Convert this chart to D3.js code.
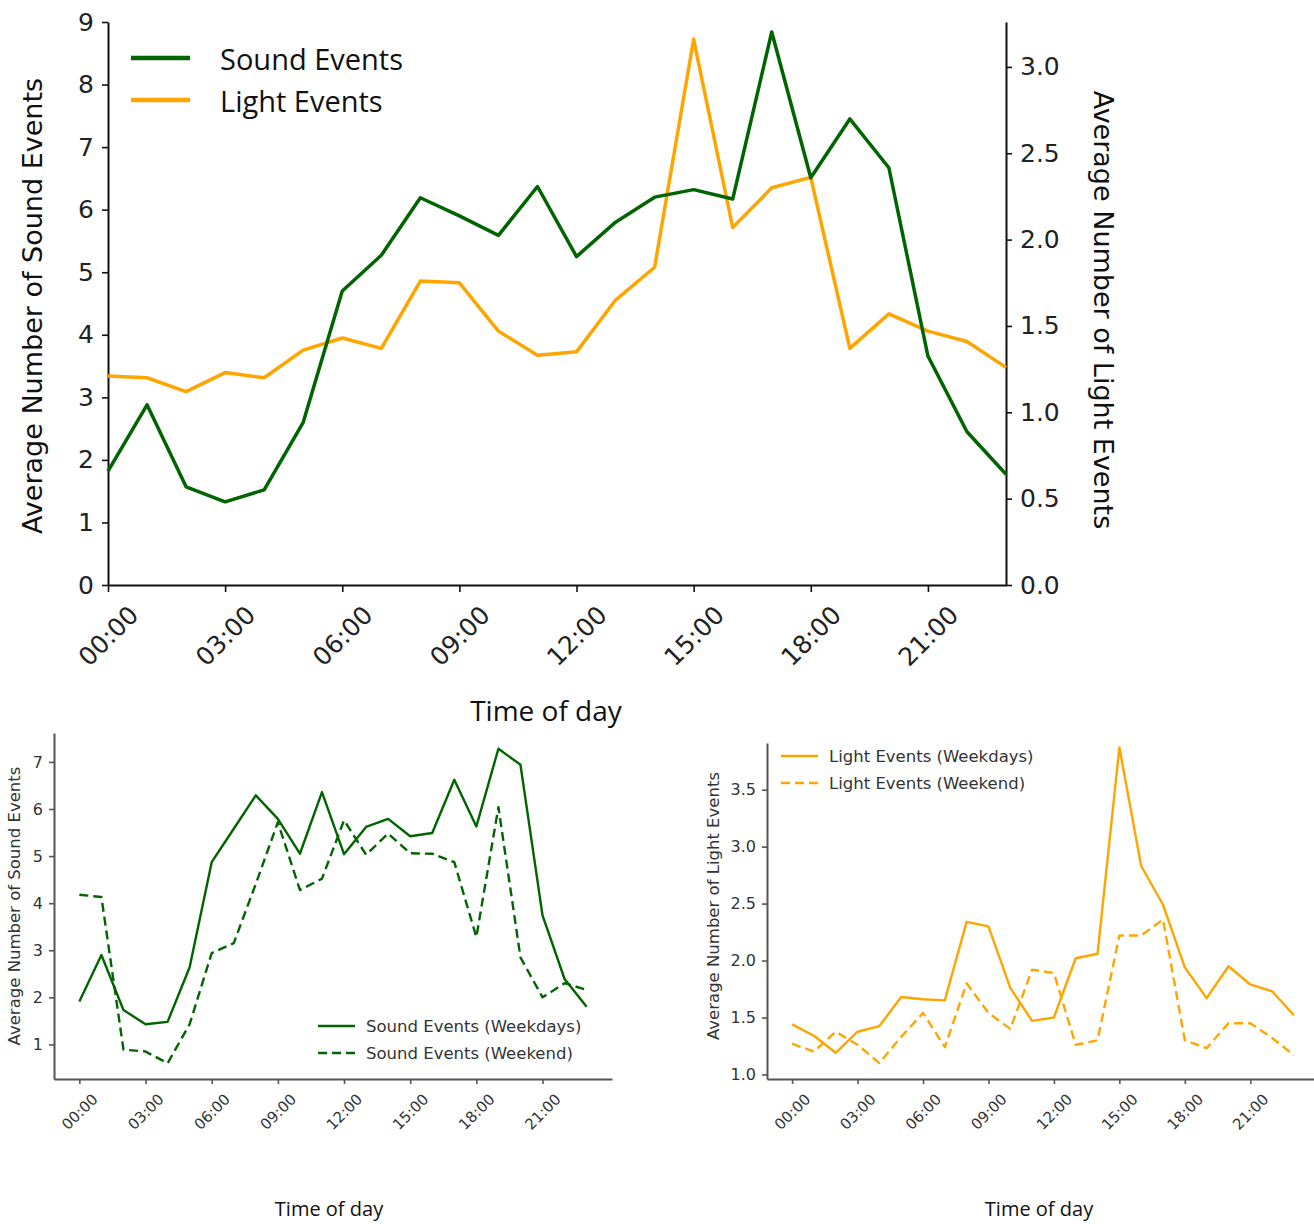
<!DOCTYPE html>
<html>
<head>
<meta charset="utf-8">
<script src="https://cdn.jsdelivr.net/npm/d3@7"></script>
<style>
  html, body { margin: 0; padding: 0; background: #fff; }
  svg { display: block; }
  text { font-family: "DejaVu Sans", sans-serif; }
</style>
</head>
<body>
<svg id="chart" width="1314" height="1224"></svg>
<script>
// Hours of the day (0..23) and the labelled ticks on every time axis
const hours = d3.range(24);
const hourTicks = [0, 3, 6, 9, 12, 15, 18, 21];
const hourTickLabels = ["00:00", "03:00", "06:00", "09:00", "12:00", "15:00", "18:00", "21:00"];

// All days: average number of events per hour
const soundAll = [1.82, 2.88, 1.57, 1.33, 1.52, 2.60, 4.70, 5.27, 6.19, 5.90, 5.59, 6.37,
                  5.25, 5.80, 6.20, 6.32, 6.17, 8.84, 6.51, 7.45, 6.67, 3.66, 2.45, 1.77];
const lightAll = [1.21, 1.20, 1.12, 1.23, 1.20, 1.36, 1.43, 1.37, 1.76, 1.75, 1.47, 1.33,
                  1.35, 1.65, 1.84, 3.16, 2.07, 2.30, 2.36, 1.37, 1.57, 1.47, 1.41, 1.26];

// Weekdays vs weekend
const soundWeekdays = [1.91, 2.90, 1.73, 1.43, 1.48, 2.64, 4.87, 5.58, 6.29, 5.79, 5.05, 6.36,
                       5.04, 5.62, 5.79, 5.42, 5.49, 6.62, 5.63, 7.28, 6.94, 3.74, 2.39, 1.80];
const soundWeekend  = [4.18, 4.13, 0.89, 0.85, 0.60, 1.43, 2.94, 3.15, 4.41, 5.72, 4.28, 4.52,
                       5.76, 5.03, 5.48, 5.06, 5.05, 4.87, 3.28, 6.04, 2.85, 2.00, 2.30, 2.16];
const lightWeekdays = [1.44, 1.34, 1.19, 1.375, 1.425, 1.68, 1.66, 1.65, 2.34, 2.30, 1.76, 1.47,
                       1.50, 2.02, 2.06, 3.87, 2.83, 2.49, 1.94, 1.67, 1.95, 1.79, 1.73, 1.52];
const lightWeekend  = [1.27, 1.20, 1.375, 1.26, 1.10, 1.33, 1.54, 1.24, 1.80, 1.54, 1.40, 1.92,
                       1.89, 1.26, 1.30, 2.22, 2.22, 2.36, 1.30, 1.23, 1.45, 1.45, 1.32, 1.17];

// Tick values for the value axes
const soundTicksTop = [0, 1, 2, 3, 4, 5, 6, 7, 8, 9];
const lightTicksTop = [0, 0.5, 1.0, 1.5, 2.0, 2.5, 3.0];
const soundTicksSplit = [1, 2, 3, 4, 5, 6, 7];
const lightTicksSplit = [1.0, 1.5, 2.0, 2.5, 3.0, 3.5];

const GREEN = "#006400";
const ORANGE = "#FFA500";

const svg = d3.select("#chart");
const hourLabel = h => hourTickLabels[hourTicks.indexOf(h)];

function styleAxis(g, color, width) {
  g.select(".domain").attr("stroke", color).attr("stroke-width", width);
  g.selectAll(".tick line").attr("stroke", color).attr("stroke-width", width * 0.8);
}

function rotateHourLabels(g, offset, size, color) {
  g.selectAll(".tick text")
    .attr("y", 0).attr("dy", null)
    .attr("transform", `translate(0,${offset}) rotate(-45)`)
    .attr("text-anchor", "middle")
    .attr("dominant-baseline", "central")
    .attr("fill", color)
    .style("font-size", size + "px");
}

/* ---------- Top panel: all days, twin value axes ---------- */
{
  const x = d3.scaleLinear().domain([0, 23]).range([108, 1006]);
  const ySound = d3.scaleLinear().domain([0, 9]).range([585, 22]);
  const yLight = d3.scaleLinear().domain([0, 3.26]).range([585, 22]);

  const gx = svg.append("g").attr("transform", `translate(0,${ySound(0)})`)
    .call(d3.axisBottom(x).tickValues(hourTicks).tickFormat(hourLabel).tickSize(7).tickSizeOuter(0));
  styleAxis(gx, "#111", 2);
  rotateHourLabels(gx, 51, 25, "#222");

  const gl = svg.append("g").attr("transform", `translate(${x(0)},0)`)
    .call(d3.axisLeft(ySound).tickValues(soundTicksTop).tickFormat(d3.format("d")).tickSize(6).tickPadding(8).tickSizeOuter(0));
  styleAxis(gl, "#111", 2);
  gl.selectAll(".tick text").attr("fill", "#222").style("font-size", "25px");

  const gr = svg.append("g").attr("transform", `translate(${x(23)},0)`)
    .call(d3.axisRight(yLight).tickValues(lightTicksTop).tickFormat(d3.format(".1f")).tickSize(6).tickPadding(8).tickSizeOuter(0));
  styleAxis(gr, "#111", 2);
  gr.selectAll(".tick text").attr("fill", "#222").style("font-size", "25px");

  const lineS = d3.line().x((d, i) => x(hours[i])).y(d => ySound(d));
  const lineL = d3.line().x((d, i) => x(hours[i])).y(d => yLight(d));
  svg.append("path").datum(lightAll).attr("d", lineL)
    .attr("fill", "none").attr("stroke", ORANGE).attr("stroke-width", 3.5).attr("stroke-linejoin", "round");
  svg.append("path").datum(soundAll).attr("d", lineS)
    .attr("fill", "none").attr("stroke", GREEN).attr("stroke-width", 3.5).attr("stroke-linejoin", "round");

  svg.append("text").attr("transform", "translate(42,306) rotate(-90)")
    .attr("text-anchor", "middle").attr("fill", "#111").style("font-size", "27px")
    .text("Average Number of Sound Events");
  svg.append("text").attr("transform", "translate(1094,310) rotate(90)")
    .attr("text-anchor", "middle").attr("fill", "#111").style("font-size", "27px")
    .text("Average Number of Light Events");
  svg.append("text").attr("x", 546).attr("y", 721)
    .attr("text-anchor", "middle").attr("fill", "#111")
    .style("font-family", "'Open Sans', sans-serif").style("font-size", "28px")
    .text("Time of day");

  const legend = [{ label: "Sound Events", color: GREEN, y: 58 }, { label: "Light Events", color: ORANGE, y: 100 }];
  const lg = svg.append("g");
  legend.forEach(d => {
    lg.append("line").attr("x1", 131).attr("x2", 190).attr("y1", d.y).attr("y2", d.y)
      .attr("stroke", d.color).attr("stroke-width", 4.5);
    lg.append("text").attr("x", 220).attr("y", d.y).attr("dominant-baseline", "central")
      .attr("fill", "#111").style("font-family", "'Open Sans', sans-serif").style("font-size", "29px")
      .text(d.label);
  });
}

/* ---------- Bottom panels: weekdays vs weekend ---------- */
function splitPanel(opts) {
  const pad = 23 * 0.05;
  const x = d3.scaleLinear().domain([-pad, 23 + pad]).range([opts.left, opts.right]);
  const y = d3.scaleLinear().domain(opts.yDomain).range([1079, opts.top]);

  const gx = svg.append("g").attr("transform", "translate(0,1079)")
    .call(d3.axisBottom(x).tickValues(hourTicks).tickFormat(hourLabel).tickSize(5).tickSizeOuter(0));
  styleAxis(gx, "#555", 2);
  rotateHourLabels(gx, 33, 15, "#333");

  const gy = svg.append("g").attr("transform", `translate(${opts.left},0)`)
    .call(d3.axisLeft(y).tickValues(opts.ticks).tickFormat(opts.fmt).tickSize(5).tickPadding(6).tickSizeOuter(0));
  styleAxis(gy, "#555", 2);
  gy.selectAll(".tick text").attr("fill", "#333").style("font-size", "16px");

  const line = d3.line().x((d, i) => x(hours[i])).y(d => y(d));
  svg.append("path").datum(opts.weekdays).attr("d", line)
    .attr("fill", "none").attr("stroke", opts.color).attr("stroke-width", 2.4).attr("stroke-linejoin", "round");
  svg.append("path").datum(opts.weekend).attr("d", line)
    .attr("fill", "none").attr("stroke", opts.color).attr("stroke-width", 2.4)
    .attr("stroke-dasharray", "9,5").attr("stroke-linejoin", "round");

  svg.append("text").attr("transform", `translate(${opts.titleX},906) rotate(-90)`)
    .attr("text-anchor", "middle").attr("fill", "#333").style("font-size", "16.5px")
    .text(opts.yTitle);
  svg.append("text").attr("x", opts.xTitleX).attr("y", 1216)
    .attr("text-anchor", "middle").attr("fill", "#111")
    .style("font-family", "'Open Sans', sans-serif").style("font-size", "20px")
    .text("Time of day");

  const rows = [{ label: opts.series[0], dash: null, y: opts.legendY },
                { label: opts.series[1], dash: "9,5", y: opts.legendY + 27 }];
  rows.forEach(d => {
    svg.append("line").attr("x1", opts.legendX).attr("x2", opts.legendX + 37)
      .attr("y1", d.y).attr("y2", d.y)
      .attr("stroke", opts.color).attr("stroke-width", 2.4).attr("stroke-dasharray", d.dash);
    svg.append("text").attr("x", opts.legendX + 48).attr("y", d.y).attr("dominant-baseline", "central")
      .attr("fill", "#333").style("font-size", "16.5px").text(d.label);
  });
}

const soundAllSplit = soundWeekdays.concat(soundWeekend);
const sPad = (d3.max(soundAllSplit) - d3.min(soundAllSplit)) * 0.05;
splitPanel({
  left: 54, right: 612, top: 733,
  yDomain: [d3.min(soundAllSplit) - sPad, d3.max(soundAllSplit) + sPad],
  ticks: soundTicksSplit, fmt: d3.format("d"),
  weekdays: soundWeekdays, weekend: soundWeekend, color: GREEN,
  yTitle: "Average Number of Sound Events", titleX: 20, xTitleX: 329,
  series: ["Sound Events (Weekdays)", "Sound Events (Weekend)"],
  legendX: 318, legendY: 1026
});

splitPanel({
  left: 767, right: 1319, top: 743,
  yDomain: [0.96, 3.91],
  ticks: lightTicksSplit, fmt: d3.format(".1f"),
  weekdays: lightWeekdays, weekend: lightWeekend, color: ORANGE,
  yTitle: "Average Number of Light Events", titleX: 719, xTitleX: 1039,
  series: ["Light Events (Weekdays)", "Light Events (Weekend)"],
  legendX: 781, legendY: 756
});
</script>
</body>
</html>
